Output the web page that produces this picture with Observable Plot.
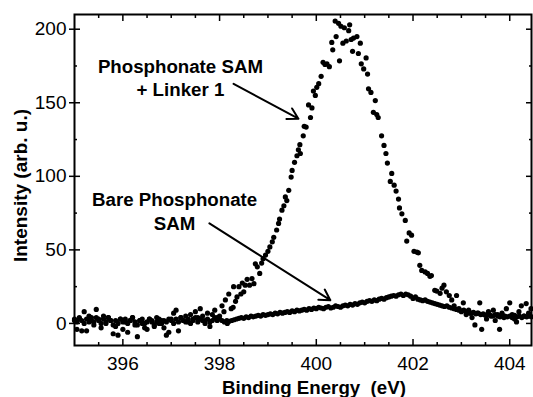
<!DOCTYPE html>
<html>
<head>
<meta charset="utf-8">
<script src="https://cdn.jsdelivr.net/npm/d3@7"></script>
<script src="https://cdn.jsdelivr.net/npm/@observablehq/plot@0.6"></script>
<style>
  html, body { margin: 0; padding: 0; background: #fff; }
</style>
</head>
<body>
<div id="chart"></div>
<script>
// Phosphonate SAM + Linker 1 (energy eV, intensity arb. u.)
const linkerE = [
395.00,395.05,395.10,395.15,395.20,395.25,395.30,395.35,395.40,395.45,395.50,395.55,395.60,395.65,395.70,395.75,395.80,395.85,395.90,395.95,
396.00,396.05,396.10,396.15,396.20,396.25,396.30,396.35,396.40,396.45,396.50,396.55,396.60,396.65,396.70,396.75,396.80,396.85,396.90,396.95,
397.00,397.05,397.10,397.15,397.20,397.25,397.30,397.35,397.40,397.45,397.50,397.55,397.60,397.65,397.70,397.75,397.80,397.85,397.90,397.95,
398.00,398.05,398.09,398.12,398.16,398.19,398.24,398.28,398.29,398.33,398.36,398.40,398.44,398.47,398.50,398.53,398.57,398.62,398.67,398.71,
398.74,398.78,398.83,398.87,398.90,398.95,399.00,399.04,399.09,399.12,399.18,399.22,399.24,399.29,399.33,399.36,399.39,399.43,399.48,399.50,
399.55,399.60,399.63,399.66,399.67,399.73,399.75,399.79,399.84,399.88,399.91,399.94,399.98,400.01,400.05,400.10,400.14,400.18,400.22,400.27,
400.32,400.34,400.39,400.41,400.46,400.48,400.51,400.55,400.58,400.62,400.67,400.69,400.72,400.75,400.77,400.84,400.87,400.91,400.93,400.98,
401.03,401.06,401.08,401.13,401.18,401.22,401.25,401.28,401.35,401.40,401.44,401.47,401.53,401.56,401.61,401.65,401.70,401.72,401.77,401.84,
401.87,401.92,401.97,402.02,402.08,402.11,402.14,402.18,402.25,402.30,402.35,402.38,402.45,402.49,402.56,402.60,402.64,402.69,402.75,402.80,
402.85,402.90,402.95,403.00,403.04,403.10,403.15,403.18,403.22,403.28,403.33,403.38,403.42,403.47,403.52,403.56,403.61,403.66,403.70,403.75,
403.79,403.84,403.88,403.93,404.00,404.05,404.10,404.14,404.19,404.24,404.29,404.34,404.39,404.44
];
const linkerI = [
2,-4,3,-5,8,-5,1,4,-1,9.5,3,-3,5,0,4,2,-7,-2,-8,3,
-4,1,-6,2,4,-1,-9,2,0,-3,-4,3,1,-2,4,0,2,-3,-8,-6,
3,7,9,-5,4,2,5,1,6,3,8,4,10,5,2,7,-2,6,9,4,
5,12,8,16,0,20,10,11,25,15,18,25,20,27.5,21.5,26,30,26,30.5,27,
40.5,38.5,34,41,44,46.5,49,52,55.5,58.5,63.5,68,71,77,80,86,83.5,90.5,99.5,104,
109.5,114,118,121.5,115.5,127.5,134,133.5,148.5,140,146.5,158,155,160.5,163,168,177.5,176,176.5,174.5,
191,186,205.5,195,204,178.5,202,190.5,201,192,199,203,193,185,194,195,183.5,190.5,176.5,173,
180.5,169.5,159.5,157,143.5,151.5,142,140,127.5,121,115.5,109,96.5,102,94,90,84.5,78.5,74.5,70,
56,61.5,60,49,48.5,48,39.5,36,35,34,32,32.5,22.5,22,20.5,24,26,21.5,19,16,
12,19,10,8,14,6,9,7,4,-1,7,14,-4,6,3,8,5,9,2,6,
-4,7,4,10,14,6,3,1,8,12,5,13.5,7,10
];

// Bare Phosphonate SAM
const bareE = [
395.00,395.05,395.10,395.15,395.20,395.25,395.30,395.35,395.40,395.45,395.50,395.55,395.60,395.65,395.70,395.75,395.80,395.85,395.90,395.95,
396.00,396.05,396.10,396.15,396.20,396.25,396.30,396.35,396.40,396.45,396.50,396.55,396.60,396.65,396.70,396.75,396.80,396.85,396.90,396.95,
397.00,397.05,397.10,397.15,397.20,397.25,397.30,397.35,397.40,397.45,397.50,397.55,397.60,397.65,397.70,397.75,397.80,397.85,397.90,397.95,
398.00,398.05,398.10,398.15,398.20,398.25,398.30,398.35,398.40,398.45,398.50,398.55,398.60,398.65,398.70,398.75,398.80,398.85,398.90,398.95,
399.00,399.05,399.10,399.15,399.20,399.25,399.30,399.35,399.40,399.45,399.50,399.55,399.60,399.65,399.70,399.75,399.80,399.85,399.90,399.95,
400.00,400.05,400.10,400.15,400.20,400.25,400.30,400.35,400.40,400.45,400.50,400.55,400.60,400.65,400.70,400.75,400.80,400.85,400.90,400.95,
401.00,401.05,401.10,401.15,401.20,401.25,401.30,401.35,401.40,401.45,401.50,401.55,401.60,401.65,401.70,401.75,401.80,401.85,401.90,401.95,
402.00,402.05,402.10,402.15,402.20,402.25,402.30,402.35,402.40,402.45,402.50,402.55,402.60,402.65,402.70,402.75,402.80,402.85,402.90,402.95,
403.00,403.05,403.10,403.15,403.20,403.25,403.30,403.35,403.40,403.45,403.50,403.55,403.60,403.65,403.70,403.75,403.80,403.85,403.90,403.95,
404.00,404.05,404.10,404.15,404.20,404.25,404.30,404.35,404.40,404.45
];
const bareI = [
3,1,4,2,0,3,5,2,1,4,2,0,3,1,4,2,-1,2,0,3,
1,3,0,2,4,1,-1,2,3,0,1,3,2,-1,1,3,0,2,1,3,
2,0,3,1,4,2,1,3,0,2,4,1,3,2,0,3,1,2,4,2,
3,2,1,2,1.5,2,2.5,3,3.5,4,3.5,4.5,4,5,4.5,5,5.5,5,6,5.5,
6,6.5,6,7,6.5,7.5,7,7.5,8,7.5,8.5,8,9,8.5,9,9.5,9,10,9.5,10.5,
10,11,10.5,10,11,11.5,10.5,11,12,11.5,11,12,12.5,12,13,12.5,13.5,13,14,14.5,
14,15,15.5,15,16,15.5,16.5,17,16.5,17.5,18,18.5,19,18.5,19.5,20,19,20,19.5,18.5,
17,18,16.5,16,15.5,16,15,14.5,14,13.5,13,12.5,12,11.5,12,11,10.5,10,9.5,9,
8.5,9,8,7.5,7,7.5,6.5,7,6,6.5,5.5,6,5.5,5,6,5,4.5,5.5,5,4.5,
5,4,5.5,4.5,5,4,5,4.5,5,4.5
];

// Tick values
const xMajor = [396, 398, 400, 402, 404];
const xMinor = [395.5, 396.5, 397, 397.5, 398.5, 399, 399.5, 400.5, 401, 401.5, 402.5, 403, 403.5, 404.5];
const yMajor = [0, 50, 100, 150, 200];
const yMinor = [25, 75, 125, 175];

// Annotations
const labelText = ["Phosphonate SAM\n+ Linker 1", "Bare Phosphonate\nSAM"];
const labelX = [397.19, 397.07];
const labelY = [167.3, 76.8];
const arrowX1 = [398.29, 397.79];
const arrowY1 = [162.9, 68.0];
const arrowX2 = [399.63, 400.29];
const arrowY2 = [139.2, 15.8];

const linker = linkerE.map((e, i) => ({e, v: linkerI[i]}));
const bare = bareE.map((e, i) => ({e, v: bareI[i]}));
const labels = labelText.map((t, i) => ({t, x: labelX[i], y: labelY[i]}));
const arrows = arrowX1.map((x1, i) => ({x1, y1: arrowY1[i], x2: arrowX2[i], y2: arrowY2[i]}));

const F = "'Liberation Sans', Arial, Helvetica, sans-serif";
const none = () => "";

const chart = Plot.plot({
  width: 533,
  height: 397,
  marginLeft: 74,
  marginRight: 2,
  marginTop: 14,
  marginBottom: 52,
  style: {fontFamily: F, fontSize: "19px", color: "black", background: "white"},
  x: {domain: [395, 404.45]},
  y: {domain: [-15, 210]},
  marks: [
    // tick labels
    Plot.axisX({ticks: xMajor, tickSize: 0, tickPadding: 11, fontSize: 19, label: null}),
    Plot.axisY({ticks: yMajor, tickSize: 0, tickPadding: 8, fontSize: 19, label: null}),
    // inward ticks: bottom
    Plot.axisX({anchor: "bottom", ticks: xMajor, tickSize: 6, dy: -6, tickFormat: none, label: null, strokeWidth: 1.5}),
    Plot.axisX({anchor: "bottom", ticks: xMinor, tickSize: 3, dy: -3, tickFormat: none, label: null, strokeWidth: 1.5}),
    // top
    Plot.axisX({anchor: "top", ticks: xMajor, tickSize: 6, dy: 6, tickFormat: none, label: null, strokeWidth: 1.5}),
    Plot.axisX({anchor: "top", ticks: xMinor, tickSize: 3, dy: 3, tickFormat: none, label: null, strokeWidth: 1.5}),
    // left
    Plot.axisY({anchor: "left", ticks: yMajor, tickSize: 11, dx: 6, tickFormat: none, label: null, strokeWidth: 1.5}),
    Plot.axisY({anchor: "left", ticks: yMinor, tickSize: 3, dx: 3, tickFormat: none, label: null, strokeWidth: 1.5}),
    // right
    Plot.axisY({anchor: "right", ticks: yMajor, tickSize: 6, dx: -6, tickFormat: none, label: null, strokeWidth: 1.5}),
    Plot.axisY({anchor: "right", ticks: yMinor, tickSize: 3, dx: -3, tickFormat: none, label: null, strokeWidth: 1.5}),
    Plot.frame({stroke: "black", strokeWidth: 2}),
    // data
    Plot.dot(bare, {x: "e", y: "v", r: 2.6, fill: "black", stroke: null}),
    Plot.dot(linker, {x: "e", y: "v", r: 2.6, fill: "black", stroke: null}),
    // annotations
    Plot.text(labels, {x: "x", y: "y", text: "t", fontSize: 18.7, fontWeight: "bold", lineHeight: 1.25, textAnchor: "middle", fill: "black"}),
    Plot.arrow(arrows, {x1: "x1", y1: "y1", x2: "x2", y2: "y2", stroke: "black", strokeWidth: 2, headLength: 9}),
    // axis titles
    Plot.text(["Binding Energy\u00a0 (eV)"], {frameAnchor: "bottom", dx: 11, dy: 43, lineAnchor: "middle", textAnchor: "middle", fontSize: 18.7, fontWeight: "bold", fill: "black"}),
    Plot.text(["Intensity (arb. u.)"], {frameAnchor: "left", dx: -54, dy: 5.5, rotate: -90, lineAnchor: "middle", textAnchor: "middle", fontSize: 19, fontWeight: "bold", fill: "black"})
  ]
});
document.getElementById("chart").appendChild(chart);
</script>
</body>
</html>
